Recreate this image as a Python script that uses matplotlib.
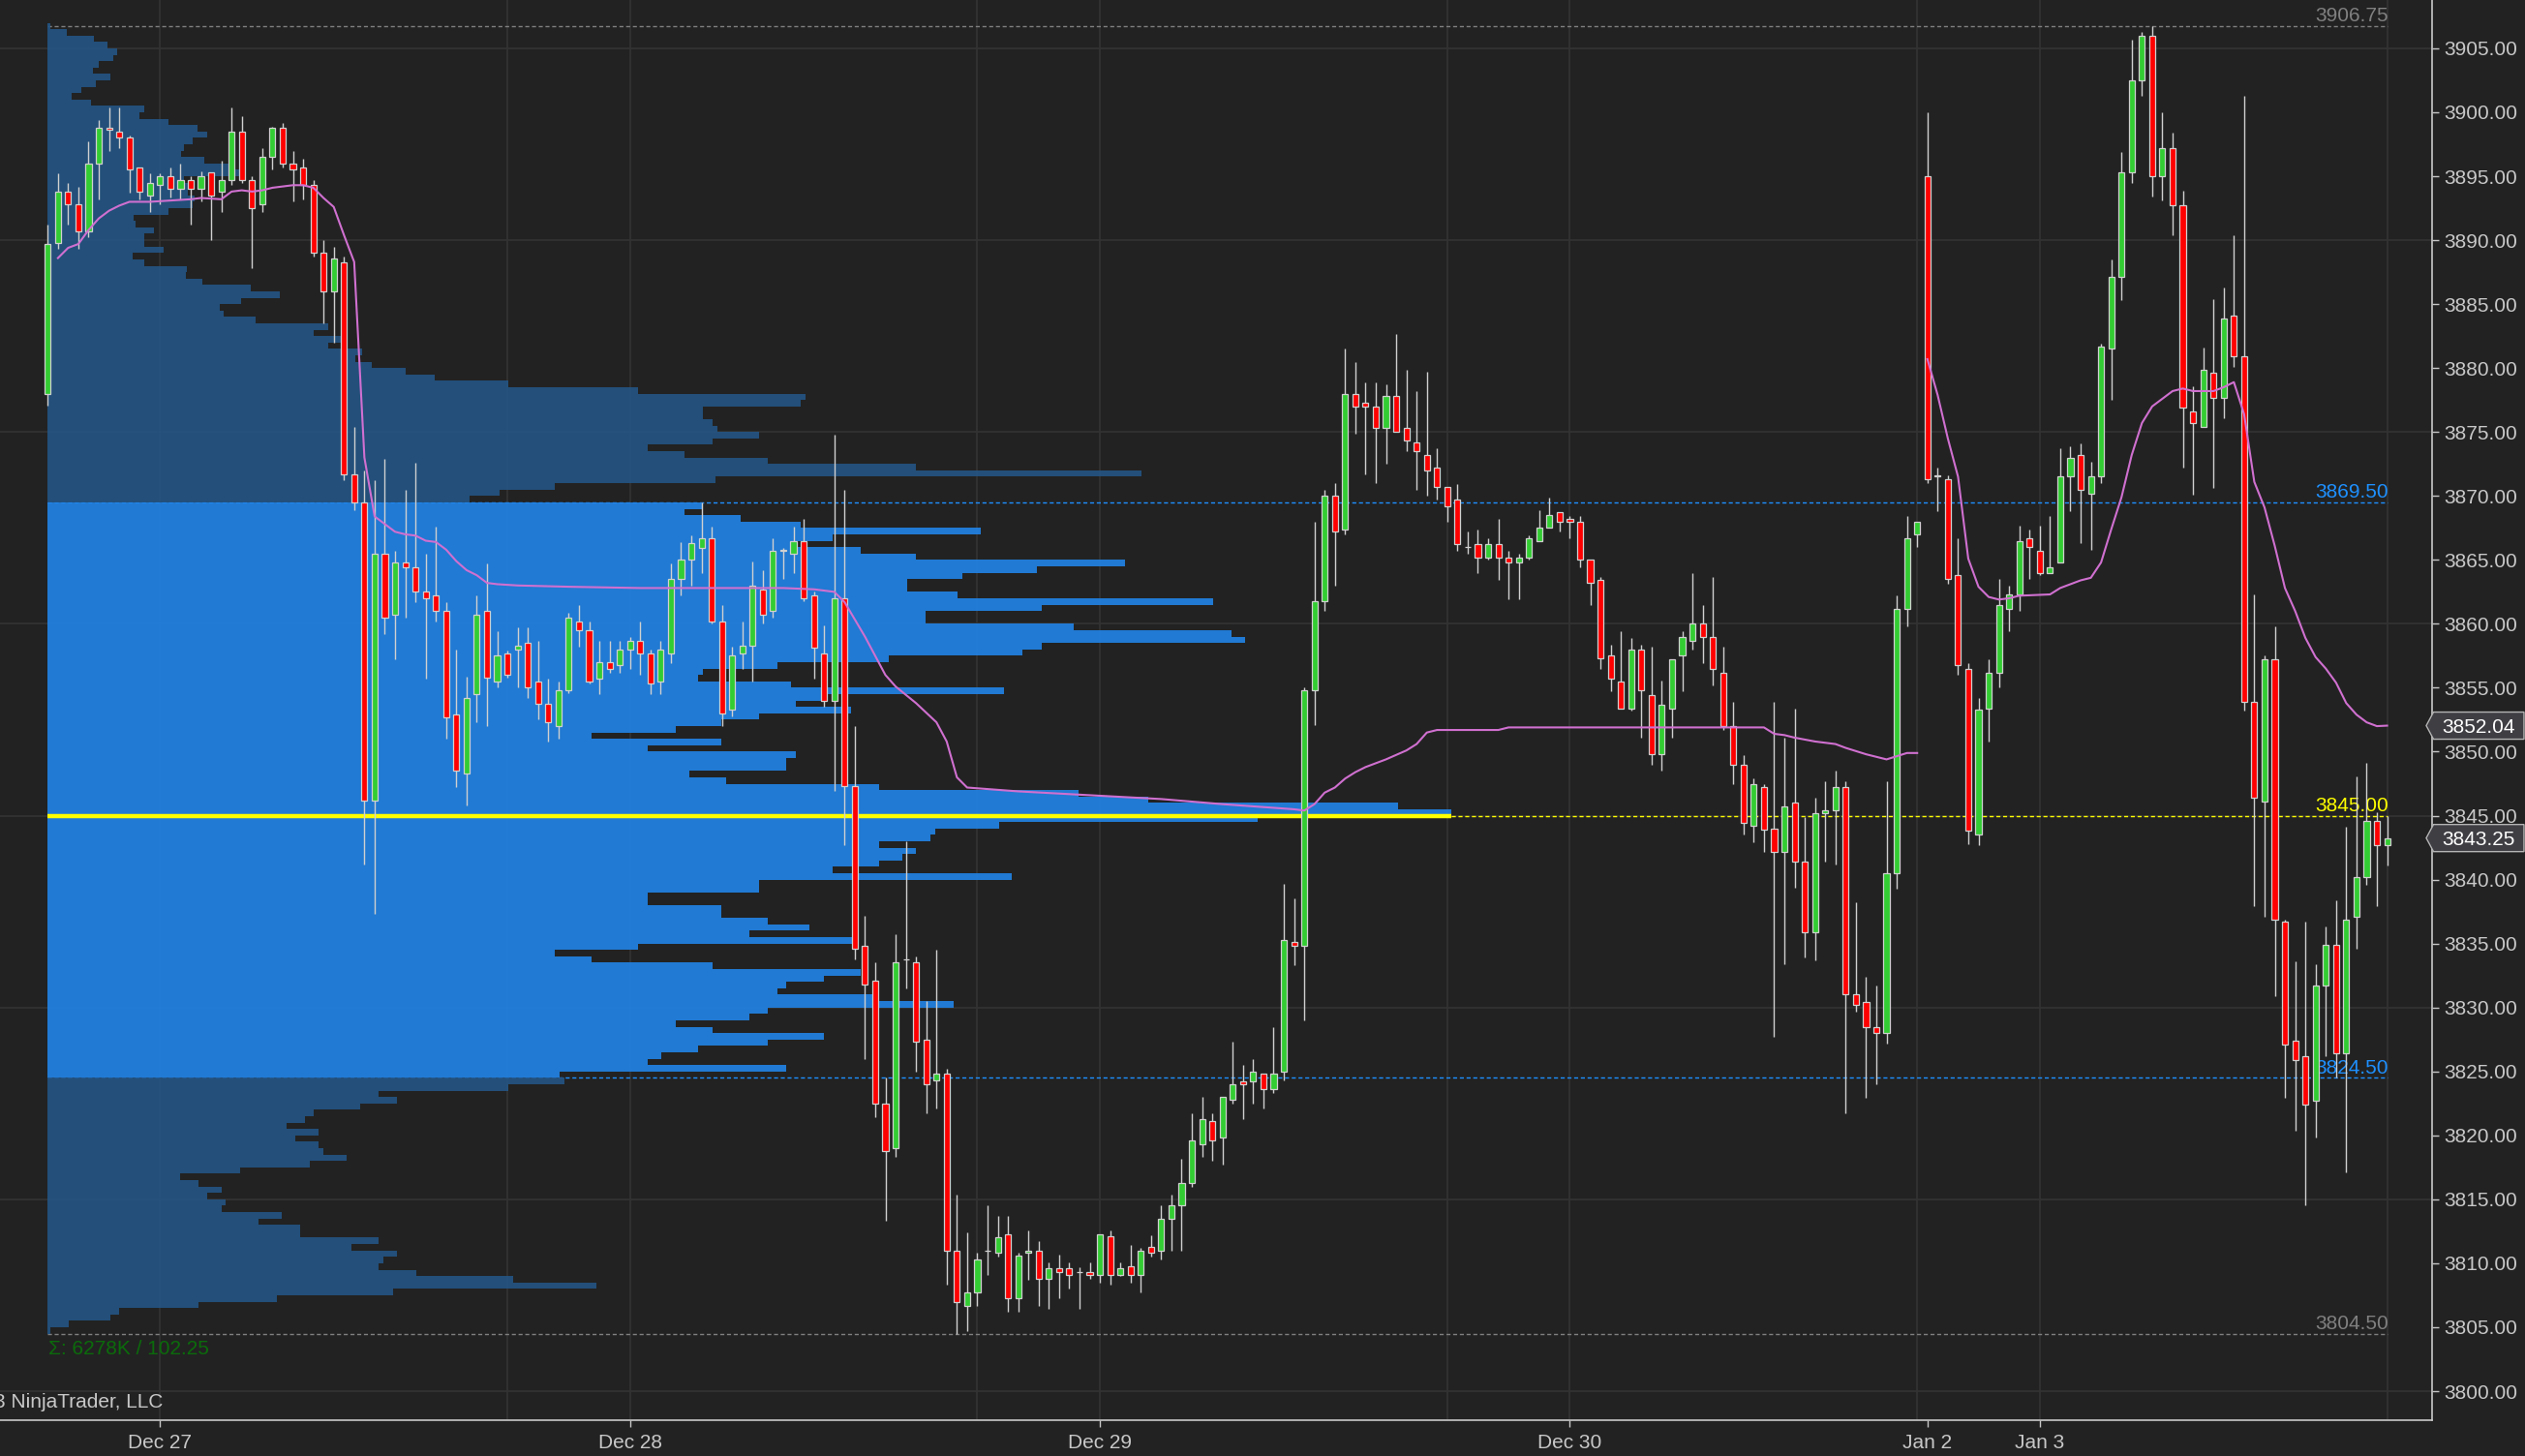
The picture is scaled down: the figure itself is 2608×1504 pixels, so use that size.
import numpy as np
import matplotlib.pyplot as plt
from matplotlib.patches import Polygon
from matplotlib.transforms import blended_transform_factory

plt.rcParams['font.family'] = ['Liberation Sans', 'DejaVu Sans']

# ---- 30 min bars, Dec 26 evening session -> Jan 3 close ----
opens = [
    3878.0, 3889.8, 3893.8, 3892.8, 3890.7, 3896.0, 3898.8, 3898.5, 3898.0, 3895.7,
    3893.5, 3894.3, 3895.0, 3894.0, 3894.7, 3894.0, 3895.3, 3893.8, 3894.7, 3898.5,
    3894.7, 3892.8, 3896.5, 3898.8, 3896.0, 3895.7, 3894.3, 3889.0, 3886.0, 3888.3,
    3871.7, 3869.5, 3846.2, 3865.5, 3860.7, 3864.8, 3864.4, 3862.5, 3862.2, 3861.0,
    3852.9, 3848.3, 3854.5, 3861.0, 3855.5, 3857.7, 3858.0, 3858.5, 3855.5, 3853.75,
    3852.0, 3854.8, 3860.2, 3859.5, 3855.7, 3857.0, 3856.8, 3858.0, 3858.7, 3857.7,
    3855.5, 3857.7, 3863.5, 3865.0, 3865.9, 3866.7, 3860.2, 3853.3, 3857.7, 3858.3,
    3862.7, 3861.0, 3865.7, 3865.5, 3866.5, 3862.2, 3857.7, 3854.0, 3862.0, 3847.3,
    3834.8, 3832.1, 3822.5, 3819.0, 3833.75, 3833.5, 3827.5, 3824.3, 3824.8, 3811.0,
    3806.7, 3807.7, 3811.0, 3810.8, 3812.3, 3807.3, 3810.8, 3811.0, 3808.8, 3809.6,
    3809.6, 3809.3, 3809.3, 3809.1, 3812.1, 3809.1, 3809.8, 3809.1, 3811.3, 3811.0,
    3813.5, 3814.5, 3816.3, 3819.3, 3821.1, 3819.8, 3822.8, 3824.2, 3824.2, 3824.8,
    3823.6, 3825.0, 3835.1, 3834.8, 3854.8, 3861.8, 3870.0, 3867.4, 3878.0, 3877.3,
    3877.0, 3875.3, 3877.8, 3875.3, 3874.2, 3873.2, 3872.2, 3870.7, 3869.7, 3866.0,
    3866.2, 3865.2, 3866.2, 3865.2, 3864.8, 3865.2, 3866.5, 3867.5, 3868.7, 3868.2,
    3868.0, 3865.0, 3863.4, 3857.5, 3855.5, 3853.4, 3858.0, 3854.4, 3849.8, 3853.4,
    3857.5, 3858.7, 3860.0, 3859.0, 3856.2, 3852.0, 3849.0, 3844.2, 3847.2, 3844.0,
    3842.2, 3846.0, 3841.4, 3835.9, 3845.2, 3845.4, 3847.2, 3831.0, 3830.4, 3828.5,
    3828.0, 3840.5, 3861.2, 3867.0, 3895.0, 3871.5, 3871.3, 3863.8, 3856.5, 3843.5,
    3853.4, 3856.2, 3861.2, 3862.3, 3866.7, 3865.7, 3864.0, 3864.8, 3871.5, 3873.2,
    3870.2, 3871.5, 3881.5, 3887.1, 3895.3, 3902.5, 3906.0, 3895.0, 3897.2, 3892.7,
    3876.6, 3875.4, 3879.6, 3877.7, 3884.1, 3880.9, 3853.9, 3846.1, 3857.2, 3836.7,
    3827.4, 3826.2, 3822.7, 3831.7, 3834.9, 3826.4, 3837.1, 3840.2, 3844.6, 3842.7,
]
highs = [
    3891.2, 3895.2, 3894.5, 3894.2, 3897.7, 3899.4, 3900.4, 3900.4, 3898.2, 3895.7,
    3895.2, 3895.2, 3895.7, 3896.0, 3895.0, 3895.4, 3895.3, 3896.2, 3900.4, 3899.7,
    3895.0, 3897.2, 3898.9, 3899.2, 3897.0, 3896.4, 3894.7, 3890.0, 3889.5, 3888.7,
    3875.4, 3872.0, 3871.2, 3872.9, 3865.7, 3870.5, 3872.6, 3865.5, 3867.6, 3861.7,
    3858.0, 3855.9, 3862.2, 3864.7, 3859.4, 3857.9, 3859.7, 3859.7, 3858.7, 3855.7,
    3855.5, 3860.9, 3861.5, 3860.2, 3858.7, 3858.7, 3858.7, 3859.0, 3860.2, 3858.0,
    3858.7, 3864.7, 3866.4, 3866.9, 3869.5, 3867.6, 3861.5, 3858.2, 3860.2, 3864.9,
    3864.2, 3866.7, 3865.9, 3867.6, 3868.2, 3862.5, 3859.9, 3874.8, 3870.5, 3852.0,
    3837.2, 3833.5, 3824.5, 3835.7, 3843.0, 3834.0, 3830.5, 3834.5, 3825.2, 3815.4,
    3812.4, 3810.8, 3814.5, 3813.7, 3813.7, 3810.8, 3812.6, 3811.7, 3810.1, 3810.7,
    3810.1, 3809.7, 3810.1, 3812.3, 3812.6, 3810.1, 3811.4, 3811.2, 3812.2, 3814.5,
    3815.4, 3818.2, 3821.7, 3823.0, 3821.7, 3823.0, 3827.3, 3825.5, 3826.0, 3824.8,
    3828.5, 3839.7, 3838.5, 3855.0, 3868.0, 3870.5, 3871.0, 3881.5, 3880.5, 3878.9,
    3878.9, 3878.7, 3882.7, 3879.9, 3878.2, 3879.7, 3873.7, 3870.7, 3870.9, 3867.2,
    3867.4, 3866.7, 3868.2, 3865.7, 3865.5, 3866.9, 3868.9, 3869.9, 3868.7, 3868.4,
    3868.4, 3865.0, 3863.7, 3858.4, 3859.4, 3858.9, 3858.4, 3858.2, 3855.6, 3857.2,
    3859.4, 3864.0, 3861.5, 3863.7, 3858.2, 3853.9, 3849.7, 3847.9, 3847.5, 3853.9,
    3851.1, 3853.4, 3844.9, 3846.4, 3847.7, 3848.5, 3847.7, 3838.2, 3832.4, 3831.7,
    3847.7, 3862.2, 3868.4, 3868.0, 3900.0, 3872.2, 3871.6, 3866.7, 3856.9, 3854.2,
    3857.2, 3863.5, 3863.0, 3867.7, 3867.4, 3867.7, 3868.4, 3873.7, 3873.9, 3874.1,
    3872.7, 3881.9, 3888.5, 3896.9, 3905.7, 3906.25, 3906.75, 3900.0, 3898.4, 3893.9,
    3878.6, 3881.6, 3885.4, 3886.3, 3890.4, 3901.3, 3862.3, 3857.5, 3859.8, 3836.9,
    3833.6, 3836.7, 3833.4, 3836.3, 3838.4, 3844.1, 3848.1, 3849.1, 3845.3, 3845.0,
]
lows = [
    3877.1, 3889.3, 3891.2, 3889.3, 3890.2, 3893.2, 3897.0, 3897.2, 3893.7, 3893.2,
    3892.2, 3892.8, 3893.3, 3893.2, 3891.2, 3893.0, 3890.0, 3892.2, 3894.3, 3894.5,
    3887.8, 3892.2, 3895.5, 3895.7, 3893.0, 3893.2, 3888.7, 3883.5, 3882.0, 3871.2,
    3868.9, 3841.2, 3837.3, 3859.2, 3857.2, 3860.5, 3861.7, 3855.7, 3860.2, 3851.0,
    3847.2, 3845.8, 3852.3, 3852.0, 3855.0, 3855.8, 3855.0, 3854.2, 3852.5, 3850.8,
    3851.0, 3854.6, 3858.2, 3855.3, 3854.5, 3856.2, 3856.2, 3856.5, 3856.0, 3854.5,
    3854.5, 3856.9, 3862.2, 3863.0, 3864.0, 3860.0, 3852.0, 3852.8, 3856.5, 3855.5,
    3860.0, 3860.5, 3863.5, 3864.0, 3861.8, 3855.7, 3853.5, 3846.9, 3842.7, 3833.8,
    3826.0, 3821.4, 3813.3, 3818.3, 3831.5, 3825.0, 3821.7, 3822.1, 3808.3, 3804.5,
    3804.7, 3806.7, 3809.1, 3810.5, 3806.2, 3806.2, 3808.7, 3806.7, 3806.4, 3807.3,
    3808.0, 3806.4, 3808.8, 3808.5, 3808.3, 3809.0, 3808.5, 3807.7, 3810.5, 3810.3,
    3811.0, 3811.0, 3816.0, 3818.3, 3818.0, 3817.7, 3822.5, 3821.3, 3822.5, 3822.1,
    3823.3, 3824.3, 3833.3, 3829.0, 3852.1, 3861.0, 3863.0, 3867.0, 3874.9, 3871.7,
    3871.0, 3872.5, 3875.0, 3873.5, 3870.5, 3870.0, 3869.7, 3868.0, 3865.7, 3865.5,
    3864.0, 3865.0, 3863.4, 3861.9, 3861.9, 3865.0, 3866.5, 3867.5, 3867.2, 3866.7,
    3864.4, 3861.5, 3856.5, 3854.7, 3853.4, 3853.2, 3851.1, 3849.0, 3848.5, 3851.1,
    3854.7, 3858.0, 3856.9, 3855.2, 3851.7, 3847.5, 3843.5, 3842.9, 3842.2, 3827.7,
    3833.4, 3839.4, 3833.9, 3833.7, 3841.4, 3841.2, 3821.7, 3829.7, 3822.9, 3824.0,
    3827.2, 3839.3, 3859.8, 3866.0, 3871.0, 3868.8, 3863.1, 3856.0, 3842.8, 3842.7,
    3850.8, 3855.0, 3859.4, 3861.0, 3863.5, 3863.8, 3864.0, 3864.8, 3868.8, 3866.3,
    3865.8, 3871.0, 3877.5, 3885.3, 3894.5, 3901.3, 3893.4, 3893.1, 3890.4, 3872.2,
    3870.1, 3875.4, 3870.6, 3876.1, 3880.1, 3853.2, 3837.9, 3837.1, 3830.9, 3822.9,
    3820.4, 3814.5, 3819.8, 3826.2, 3824.5, 3817.1, 3834.6, 3839.6, 3837.9, 3841.1,
]
closes = [
    3889.7, 3893.8, 3892.8, 3890.7, 3896.0, 3898.8, 3898.6, 3898.0, 3895.5, 3893.8,
    3894.5, 3895.0, 3894.0, 3894.7, 3894.0, 3895.0, 3893.5, 3894.7, 3898.5, 3894.7,
    3892.5, 3896.5, 3898.8, 3896.0, 3895.5, 3894.3, 3889.0, 3886.0, 3888.6, 3871.7,
    3869.5, 3846.2, 3865.5, 3860.5, 3864.8, 3864.4, 3862.5, 3862.0, 3861.0, 3852.7,
    3848.5, 3854.2, 3860.7, 3855.8, 3857.5, 3856.0, 3858.3, 3855.0, 3853.75, 3852.3,
    3854.8, 3860.5, 3859.5, 3855.5, 3857.0, 3856.5, 3858.0, 3858.7, 3857.7, 3855.3,
    3858.0, 3863.5, 3865.0, 3866.3, 3866.7, 3860.2, 3853.0, 3857.5, 3858.3, 3863.0,
    3860.7, 3865.7, 3865.75, 3866.5, 3862.0, 3858.1, 3854.0, 3862.0, 3847.3, 3834.6,
    3831.8, 3822.5, 3818.8, 3833.5, 3833.75, 3827.3, 3824.0, 3824.8, 3811.0, 3807.0,
    3807.7, 3810.3, 3811.0, 3812.0, 3807.3, 3810.6, 3811.0, 3808.8, 3809.6, 3809.3,
    3809.1, 3809.3, 3809.1, 3812.3, 3809.1, 3809.6, 3809.1, 3811.0, 3810.8, 3813.5,
    3814.5, 3816.3, 3819.6, 3821.3, 3819.6, 3823.0, 3824.0, 3824.0, 3825.0, 3823.6,
    3824.8, 3835.3, 3834.8, 3854.8, 3861.8, 3870.0, 3867.2, 3878.0, 3877.0, 3877.0,
    3875.3, 3877.8, 3875.0, 3874.3, 3873.5, 3872.0, 3870.7, 3869.2, 3866.2, 3866.0,
    3865.2, 3866.2, 3865.2, 3864.8, 3865.2, 3866.7, 3867.5, 3868.5, 3868.0, 3868.0,
    3865.0, 3863.2, 3857.3, 3855.7, 3853.4, 3858.0, 3854.8, 3849.8, 3853.7, 3857.2,
    3859.0, 3860.0, 3859.0, 3856.5, 3852.0, 3849.0, 3844.4, 3847.5, 3843.9, 3842.2,
    3845.7, 3841.4, 3835.9, 3845.2, 3845.4, 3847.2, 3831.0, 3830.2, 3828.5, 3828.0,
    3840.5, 3861.2, 3866.7, 3868.0, 3871.3, 3871.6, 3863.5, 3856.8, 3843.8, 3853.3,
    3856.2, 3861.5, 3862.3, 3866.5, 3866.0, 3864.0, 3864.4, 3871.5, 3873.0, 3870.5,
    3871.5, 3881.7, 3887.1, 3895.3, 3902.5, 3906.0, 3895.0, 3897.2, 3892.7, 3876.9,
    3875.7, 3879.9, 3877.7, 3883.9, 3880.9, 3853.9, 3846.4, 3857.2, 3836.9, 3827.1,
    3825.9, 3822.4, 3831.7, 3834.9, 3826.4, 3836.9, 3840.2, 3844.6, 3842.7, 3843.25,
]

# date labels and session breaks (bar index)
date_labels = ['Dec 27', 'Dec 28', 'Dec 29', 'Dec 30', 'Jan 2', 'Jan 3']
date_bars = [11, 57, 103, 149, 184, 195]
grid_bars = [11, 45, 57, 91, 103, 137, 149, 183, 195, 229]

# VWAP-style line (bar, value), NaN = break
vwap_bar = [1, 2, 3, 4, 5, 6, 7, 8, 10, 12, 14, 15, 17, 18, 19, 20, 21, 22, 24, 25,
            26, 27, 28, 29, 30, 31, 32, 33, 34, 35, 36, 37, 38, 39, 40, 41, 42, 43, 44, 46,
            51, 58, 65, 72, 75, 77, 78, 80, 82, 83, 85, 87, 88, 89, 90, 95, 102, 109, 115, 122,
            123, 124, 125, 126, 127, 128, 129, 131, 133, 134, 135, 136, 142, 143, 168, 169, 170, 171, 173, 175,
            176, 178, 180, 182, 183, 183.5,
            184, 185, 186, 187, 188, 189, 190, 191, 192, 193, 196, 197, 199, 200, 201, 202, 203, 204,
            205, 206, 207, 208, 209, 210, 212, 213, 214, 215, 216, 217, 218, 219, 220, 221, 222, 223,
            224, 225, 226, 227, 228, 229]
vwap_val = [3888.6, 3889.4, 3889.7, 3890.8, 3891.7, 3892.3, 3892.7, 3893.0, 3893.0, 3893.1,
            3893.2, 3893.3, 3893.2, 3893.8, 3893.9, 3893.8, 3893.9, 3894.1, 3894.3, 3894.3,
            3894.1, 3893.3, 3892.6, 3890.4, 3888.3, 3873.0, 3868.4, 3867.8, 3867.2, 3867.0,
            3866.9, 3866.5, 3866.4, 3865.8, 3864.9, 3864.2, 3863.8, 3863.2, 3863.1, 3863.0,
            3862.9, 3862.8, 3862.8, 3862.8, 3862.7, 3862.5, 3861.7, 3859.0, 3856.0, 3855.1,
            3853.8, 3852.3, 3850.8, 3848.0, 3847.2, 3846.9, 3846.6, 3846.3, 3845.9, 3845.5,
            3845.4, 3845.9, 3846.8, 3847.2, 3847.9, 3848.4, 3848.8, 3849.4, 3850.1, 3850.6,
            3851.5, 3851.7, 3851.7, 3851.9, 3851.9, 3851.4, 3851.3, 3851.1, 3850.8, 3850.6,
            3850.3, 3849.8, 3849.4, 3849.9, 3849.9, np.nan,
            3880.7, 3877.9, 3874.5, 3871.5, 3865.1, 3862.9, 3862.1, 3861.9, 3862.0, 3862.2,
            3862.3, 3862.8, 3863.4, 3863.6, 3864.8, 3867.4, 3869.9, 3873.2,
            3875.7, 3877.0, 3877.6, 3878.2, 3878.4, 3878.2, 3878.2, 3878.5, 3878.9, 3876.4,
            3871.1, 3869.1, 3866.1, 3862.8, 3861.0, 3858.9, 3857.4, 3856.5,
            3855.4, 3853.8, 3852.9, 3852.3, 3852.0, 3852.04]

# volume profile, 0.5 pt rows from 3906.5 down to 3804.5 (relative volume)
profile_top = 3906.5
profile_step = 0.5
profile_vol = [
    3, 20, 48, 62, 72, 68, 53, 47, 65, 50,
    35, 25, 45, 100, 95, 125, 155, 165, 150, 141,
    138, 162, 190, 200, 141, 148, 145, 152, 150, 125,
    89, 91, 110, 100, 100, 120, 88, 100, 144, 143,
    160, 210, 240, 200, 178, 182, 215, 290, 275, 305,
    290, 325, 318, 335, 370, 400, 476, 610, 783, 778,
    677, 677, 687, 692, 735, 687, 620, 658, 744, 897,
    1130, 690, 524, 467, 436, 677, 658, 716, 778, 964,
    811, 773, 840, 897, 1113, 1022, 945, 888, 888, 940,
    1204, 1027, 907, 907, 1060, 1223, 1237, 1027, 1007, 869,
    754, 677, 672, 768, 988, 806, 773, 830, 735, 696,
    649, 562, 696, 620, 773, 763, 763, 663, 701, 859,
    1065, 1137, 1395, 1450, 1250, 983, 917, 912, 859, 897,
    883, 859, 811, 996, 735, 735, 620, 620, 696, 696,
    744, 787, 725, 835, 610, 524, 562, 687, 840, 802,
    763, 754, 859, 936, 744, 725, 649, 687, 802, 744,
    672, 634, 620, 763, 529, 534, 476, 342, 361, 323,
    275, 266, 247, 280, 256, 280, 285, 309, 271, 199,
    137, 156, 180, 165, 184, 180, 242, 218, 261, 261,
    342, 314, 361, 347, 342, 381, 481, 567, 357, 237,
    156, 74, 65, 22, 3,
]
va_high, va_low, poc = 3869.5, 3824.5, 3845.0
prof_high, prof_low = 3906.75, 3804.5
last_price, vwap_last = 3843.25, 3852.04

BG = '#222222'
GRID = '#333333'
TXT = '#c8c8c8'
WICK = '#d0d0d0'
UP, DN = '#32cd32', '#ff0000'
VA_COL, OUT_COL = '#2184e8', '#245585'
BLUE, GREY, YEL = '#1e90ff', '#808080', '#ffff00'
FS = 15

fig = plt.figure(figsize=(26.08, 15.04), dpi=100, facecolor=BG)
ax = fig.add_axes([0, 37 / 1504, 2512 / 2608, 1467 / 1504], facecolor=BG)

o, h, l, c = (np.array(v, float) for v in (opens, highs, lows, closes))
x = np.arange(len(o))
last_bar = x[-1]

# grid
for gy in range(3800, 3906, 15):
    ax.axhline(gy, color=GRID, lw=1.2, zorder=0)
for gb in grid_bars:
    ax.axvline(gb, color=GRID, lw=1.2, zorder=0)

# level lines
for lv, col in [(prof_high, GREY), (va_high, BLUE), (va_low, BLUE), (prof_low, GREY)]:
    ax.plot([0, last_bar], [lv, lv], color=col, lw=1.0, ls=(0, (3, 2)), zorder=1)

# volume profile
vol = np.array(profile_vol, float)
prof_price = profile_top - profile_step * np.arange(len(vol))
poc_len = 137.4
widths = vol / vol.max() * poc_len
in_va = (prof_price >= va_low) & (prof_price < va_high)
ax.barh(prof_price + profile_step / 2, widths, height=profile_step, left=0,
        color=np.where(in_va, VA_COL, OUT_COL), alpha=0.9, linewidth=0, zorder=2)
ax.plot([0, widths.max()], [poc, poc], color=YEL, lw=3.2, solid_capstyle='butt', zorder=3)
ax.plot([widths.max(), last_bar], [poc, poc], color=YEL, lw=1.0, ls=(0, (3, 2)), zorder=3)

# level labels
for lv, col in [(prof_high, GREY), (va_high, BLUE), (poc, YEL), (va_low, BLUE), (prof_low, GREY)]:
    ax.text(last_bar + 0.1, lv + 0.35, f'{lv:.2f}', color=col, fontsize=FS,
            ha='right', va='baseline', zorder=3.5)

# candles
ax.vlines(x, l, h, color=WICK, lw=1.0, zorder=4)
ax.bar(x, np.abs(c - o), bottom=np.minimum(o, c), width=0.58,
       color=np.where(c >= o, UP, DN), edgecolor=WICK, linewidth=0.9, zorder=5)

# vwap line
ax.plot(vwap_bar, vwap_val, color='#d070d0', lw=1.5, zorder=6)

ax.text(0.02, 3803.3, '\u03a3: 6278K / 102.25', color='#0b6b0b', fontsize=FS,
        ha='left', va='center', zorder=6,
        transform=blended_transform_factory(ax.transAxes, ax.transData))
ax.text(168 / 2512, 18 / 1467, '\u00a9 2023 NinjaTrader, LLC', color=TXT, fontsize=FS,
        ha='right', va='center', transform=ax.transAxes, clip_on=False)

# axes
ax.set_xlim(-4.67, 233.4)
ax.set_ylim(3797.73, 3908.78)
ax.set_xticks(date_bars)
ax.set_xticklabels(date_labels)
ax.set_yticks(np.arange(3800, 3906, 5))
ax.set_yticklabels([f'{v:.2f}' for v in np.arange(3800, 3906, 5)])
ax.yaxis.tick_right()
ax.tick_params(axis='y', colors=TXT, labelsize=FS, length=5, width=1, pad=3.5)
ax.tick_params(axis='x', colors=TXT, labelsize=FS, length=5, width=1, pad=5)
for s in ('top', 'left'):
    ax.spines[s].set_visible(False)
for s in ('right', 'bottom'):
    ax.spines[s].set_color(TXT)
    ax.spines[s].set_linewidth(1.2)

# price markers on the axis
tr = blended_transform_factory(ax.transAxes, ax.transData)
for price, label in [(vwap_last, f'{vwap_last:.2f}'), (last_price, f'{last_price:.2f}')]:
    hh = 1.06
    pts = [(0.9976, price), (1.0006, price + hh), (1.0378, price + hh),
           (1.0378, price - hh), (1.0006, price - hh)]
    ax.add_patch(Polygon(pts, closed=True, transform=tr, facecolor='#3e3e43',
                         edgecolor='#b4b4b4', lw=1.0, clip_on=False, zorder=10))
    ax.text(1.019, price, label, transform=tr, color='white', fontsize=FS,
            ha='center', va='center_baseline', clip_on=False, zorder=11)

fig.savefig('out.png', dpi=100, facecolor=BG)
